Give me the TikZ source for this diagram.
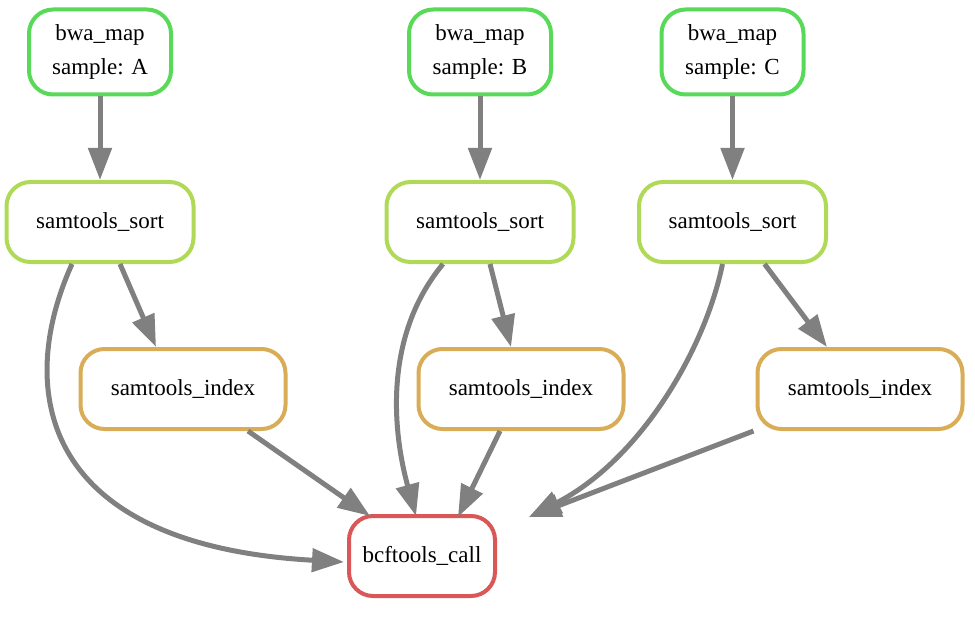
\documentclass[tikz,border=0pt]{standalone}
\usepackage{fontspec}
\setmainfont{Liberation Serif}
\usetikzlibrary{arrows.meta}
\definecolor{cbwa}{RGB}{88,217,87}
\definecolor{csort}{RGB}{175,217,87}
\definecolor{cindex}{RGB}{217,173,87}
\definecolor{ccall}{RGB}{217,87,87}
\definecolor{cedge}{RGB}{128,128,128}
\tikzset{
  job/.style={draw, line width=4pt, rounded corners=24pt, fill=white, inner sep=0pt,
    minimum height=80pt, align=center, font=\fontsize{23}{34}\selectfont},
  bwabox/.style={job, draw=cbwa, minimum width=142pt, minimum height=85pt},
  sortbox/.style={job, draw=csort, minimum width=187pt},
  indexbox/.style={job, draw=cindex, minimum width=205pt},
  callbox/.style={job, draw=ccall, minimum width=146pt},
  edge/.style={draw=cedge, line width=5pt, -{Triangle[length=32pt,width=23pt]}}
}
\begin{document}
\begin{tikzpicture}[x=1pt,y=-1pt]
\useasboundingbox (0,0) rectangle (975,623);
\node[bwabox] (bA) at (100,52) {bwa\_map\\sample: A};
\node[bwabox] (bB) at (480,52) {bwa\_map\\sample: B};
\node[bwabox] (bC) at (732.5,52) {bwa\_map\\sample: C};
\node[sortbox] (sA) at (100,222) {samtools\_sort};
\node[sortbox] (sB) at (480,222) {samtools\_sort};
\node[sortbox] (sC) at (732.5,222) {samtools\_sort};
\node[indexbox] (iA) at (183,389) {samtools\_index};
\node[indexbox] (iB) at (521,389) {samtools\_index};
\node[indexbox] (iC) at (860,389) {samtools\_index};
\node[callbox] (bc) at (422,556) {bcftools\_call};
\coordinate (bcR) at ([xshift=32pt,yshift=-3pt]bc.north east);

\draw[edge] (bA.south) -- (sA.north);
\draw[edge] (bB.south) -- (sB.north);
\draw[edge] (bC.south) -- (sC.north);

\draw[edge] ([xshift=20pt]sA.south) -- ([xshift=-27pt]iA.north);
\draw[edge] ([xshift=10pt]sB.south) -- ([xshift=-10pt]iB.north);
\draw[edge] ([xshift=32pt]sC.south) -- ([xshift=-33pt]iC.north);

\draw[edge] ([xshift=-28pt]sA.south) .. controls (15,390) and (40,545) .. ([yshift=-6pt,xshift=-3pt]bc.west);
\draw[edge] ([xshift=65pt]iA.south) -- ([xshift=-52pt,yshift=-2pt]bc.north);

\draw[edge] ([xshift=-37pt]sB.south) .. controls (380,340) and (395,440) .. ([xshift=-6pt,yshift=-2pt]bc.north);
\draw[edge] ([xshift=-21pt]iB.south) -- ([xshift=36pt,yshift=-3pt]bc.north);

\draw[edge] ([xshift=-10pt]sC.south) .. controls (705,350) and (640,460) .. (bcR);
\draw[edge] ([xshift=-2pt]iC.south west) -- (bcR);
\end{tikzpicture}
\end{document}
